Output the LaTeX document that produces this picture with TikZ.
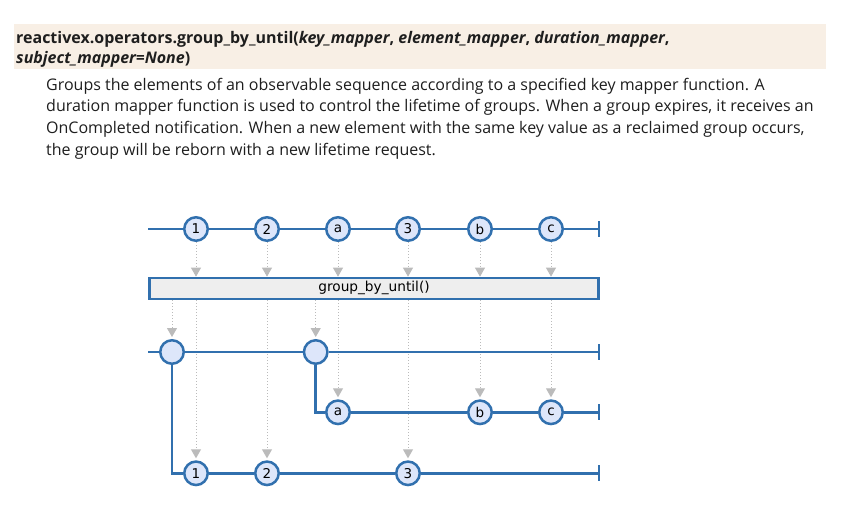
\documentclass[tikz,border=0pt]{standalone}
\usepackage{fontspec}
\setmainfont{Open Sans}
\newfontfamily\marblefont{DejaVu Sans}
\usetikzlibrary{arrows.meta}

\definecolor{rxblue}{RGB}{49,112,174}
\definecolor{rxfill}{RGB}{221,230,250}
\definecolor{rxgray}{RGB}{187,187,187}
\definecolor{opfill}{RGB}{238,238,238}
\definecolor{headbg}{RGB}{248,239,229}
\definecolor{textcol}{RGB}{30,30,30}

\tikzset{
  marble/.style = {circle, draw=rxblue, fill=rxfill, line width=2.5pt, minimum size=23.5pt,
    inner sep=0pt, font=\marblefont\fontsize{13.5}{15}\selectfont},
  timeline/.style = {rxblue, line width=2.8pt},
  emit/.style = {rxgray, line width=0.9pt, dash pattern=on 1pt off 2pt,
    -{Triangle[width=10pt,length=9pt]}},
  headline/.style = {anchor=base west, inner sep=0pt, text=textcol,
    font=\bfseries\fontsize{16}{18}\selectfont},
  descline/.style = {anchor=base west, inner sep=0pt, text=textcol,
    font=\fontsize{16}{18}\selectfont},
}

\begin{document}
\begin{tikzpicture}[x=1pt, y=-1pt]
  \useasboundingbox (0,0) rectangle (849,527);

  % Signature
  \fill[headbg] (14,24) rectangle (826,69);
  \node[headline] (sig1) at (16,43.3) {reactivex.operators.group\_by\_until(\textit{key\_mapper}, \textit{element\_mapper}, \textit{duration\_mapper},};
  \node[headline] (sig2) at (16,63.3) {\textit{subject\_mapper=None})};

  % Description
  \node[descline] (desc1) at (46,90) {Groups the elements of an observable sequence according to a specified key mapper function. A};
  \node[descline] (desc2) at (46,111.7) {duration mapper function is used to control the lifetime of groups. When a group expires, it receives an};
  \node[descline] (desc3) at (46,133.3) {OnCompleted notification. When a new element with the same key value as a reclaimed group occurs,};
  \node[descline] (desc4) at (46,155) {the group will be reborn with a new lifetime request.};

  % Source sequence
  \coordinate (s0) at (148,229);
  \coordinate (e0) at (599,229);
  \node[marble] (t1) at (196,229) {1};
  \node[marble] (t2) at (267,229) {2};
  \node[marble] (t3) at (338,229) {a};
  \node[marble] (t4) at (408,229) {3};
  \node[marble] (t5) at (480,229) {b};
  \node[marble] (t6) at (551,229) {c};

  % Operator box
  \node[draw=rxblue, fill=opfill, line width=2.5pt, minimum width=449pt, minimum height=21pt,
    inner sep=0pt, font=\marblefont\fontsize{13.7}{15}\selectfont] (op) at (374,288.4) {group\_by\_until()};

  % Groups
  \coordinate (s1) at (148,352);
  \coordinate (e1) at (599,352);
  \node[marble] (g1) at (172,352) {};
  \node[marble] (g2) at (315.7,352) {};

  % Group of letters
  \coordinate (e2) at (599,412.3);
  \node[marble] (ga) at (338,412.3) {a};
  \node[marble] (gb) at (480,412.3) {b};
  \node[marble] (gc) at (551,412.3) {c};

  % Group of numbers
  \coordinate (e3) at (599,473.3);
  \node[marble] (r1) at (196,473.3) {1};
  \node[marble] (r2) at (267,473.3) {2};
  \node[marble] (r3) at (408,473.3) {3};

  % Emissions into the operator
  \foreach \m in {t1,t2,t3,t4,t5,t6}
    \draw[emit] (\m) -- (\m |- op.north);

  % Emissions out of the operator
  \foreach \m in {g1,g2,ga,gb,gc,r1,r2,r3}
    \draw[emit, shorten >=2pt] (op.south -| \m) -- (\m);

  % Timelines
  \draw[timeline] (s0) -- (t1) -- (t2) -- (t3) -- (t4) -- (t5) -- (t6) -- (e0);
  \draw[timeline] (s1) -- (g1) -- (g2) -- (e1);
  \draw[timeline] (g2) |- (ga) -- (gb) -- (gc) -- (e2);
  \draw[timeline] (g1) |- (r1) -- (r2) -- (r3) -- (e3);

  % Completion ticks
  \foreach \e in {e0,e1,e2,e3}
    \draw[timeline] ([yshift=8pt]\e) -- ([yshift=-8pt]\e);
\end{tikzpicture}
\end{document}
